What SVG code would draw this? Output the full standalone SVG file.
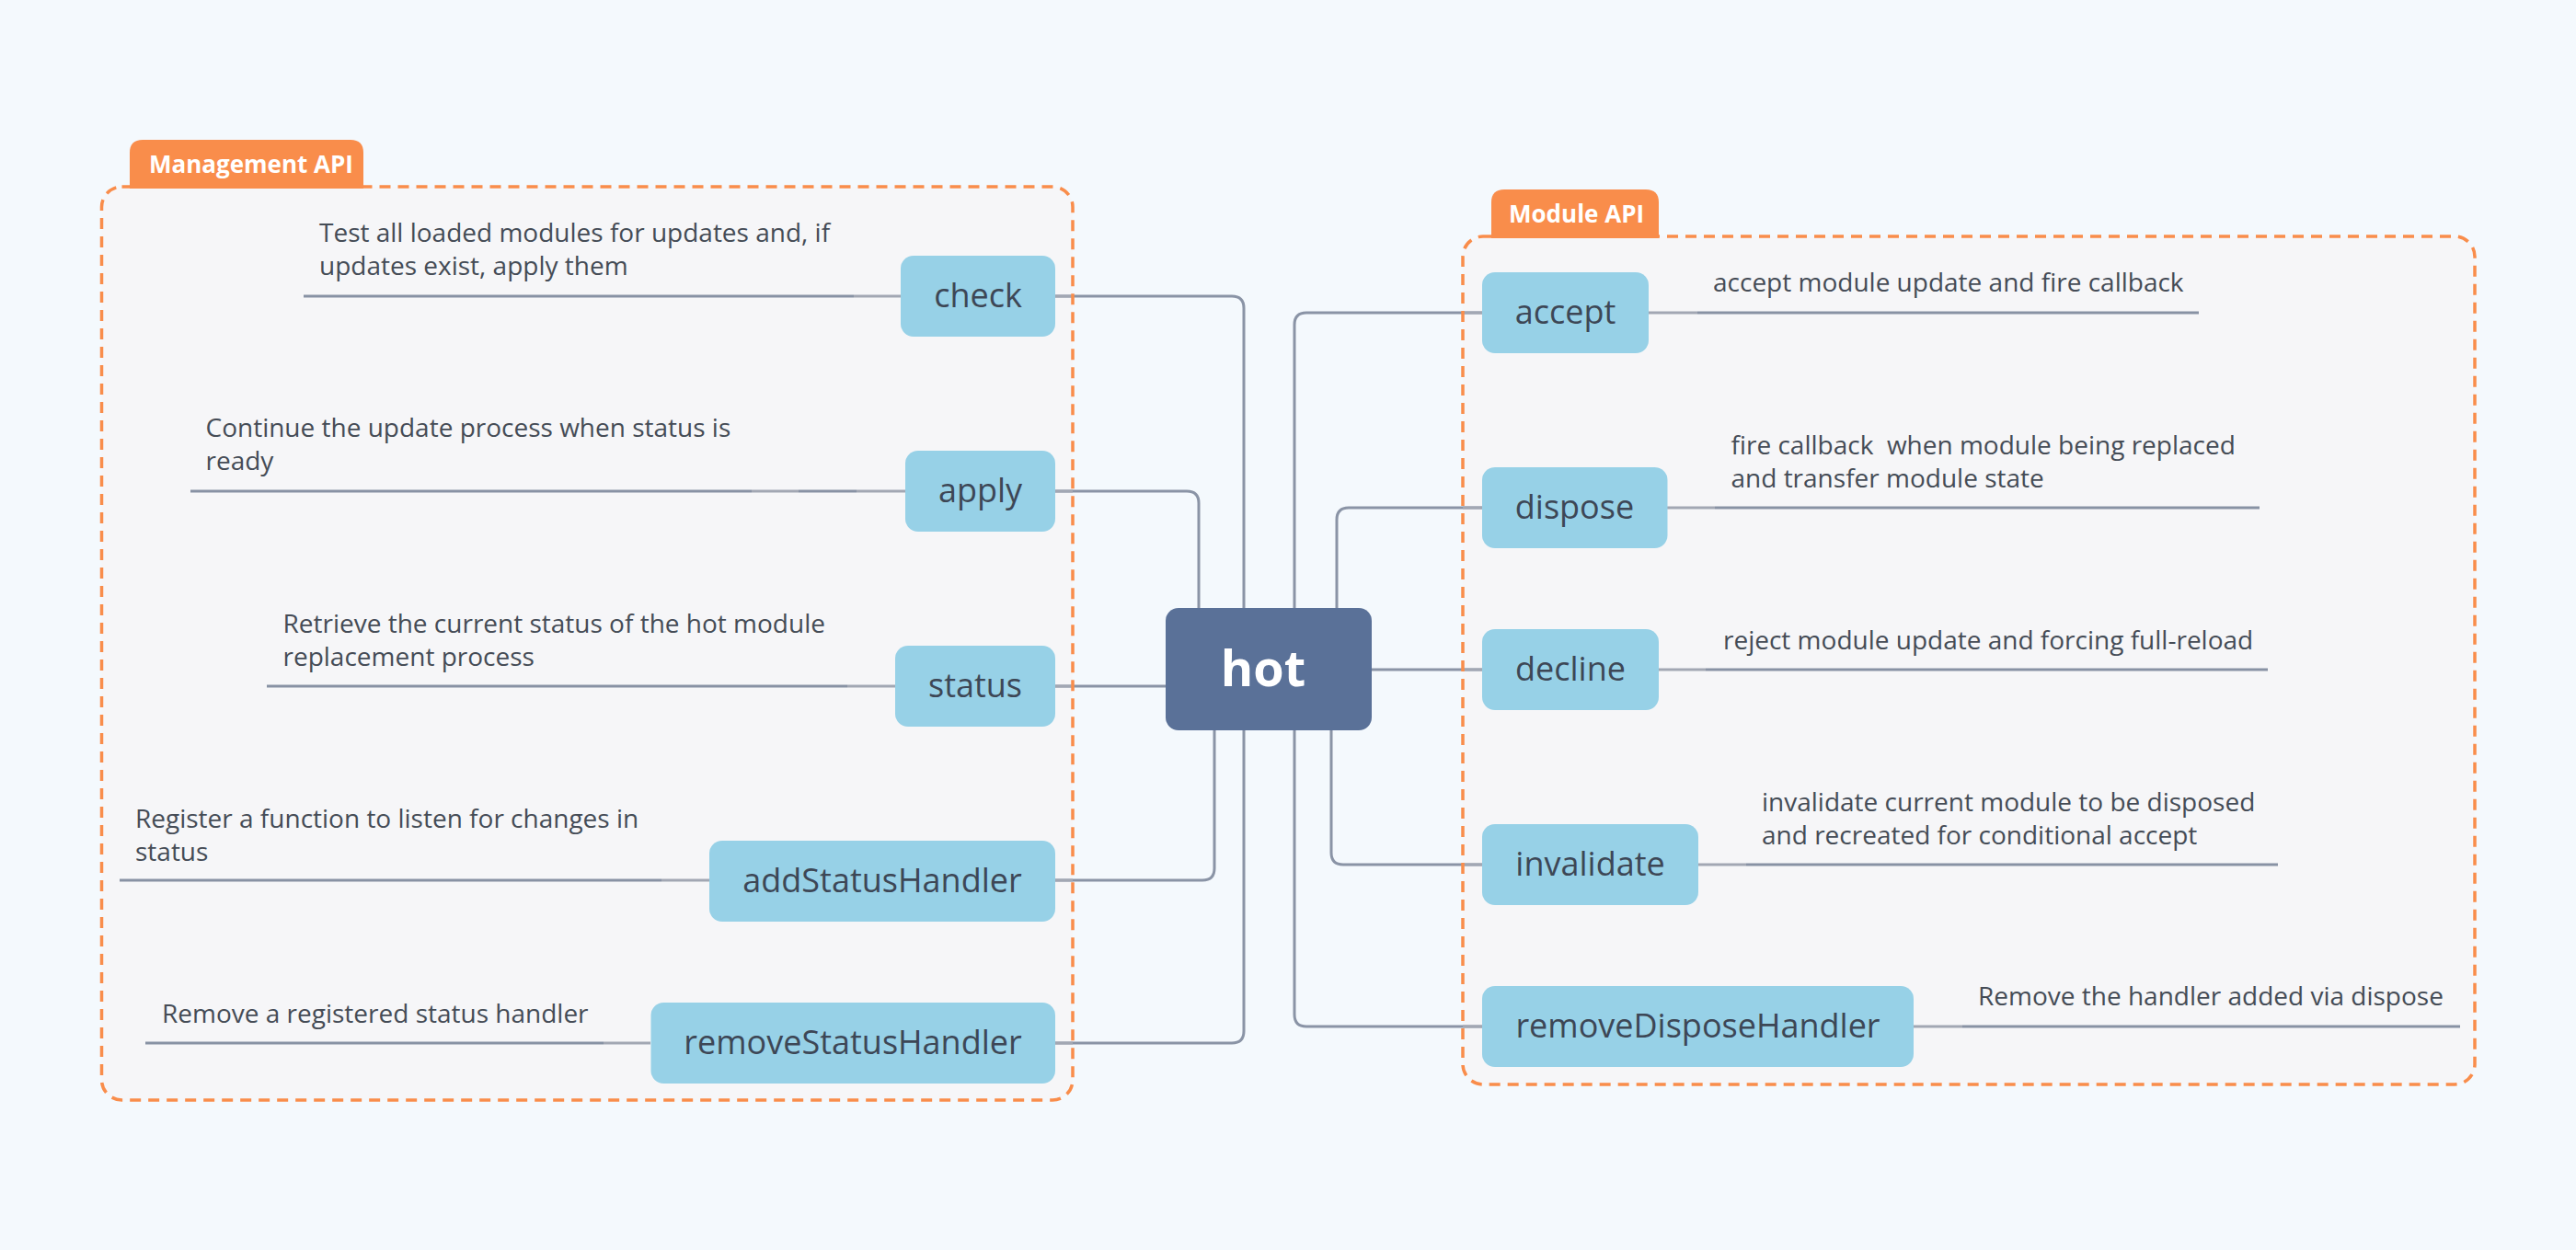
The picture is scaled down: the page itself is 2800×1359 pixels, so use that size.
<svg xmlns="http://www.w3.org/2000/svg" width="2800" height="1359" viewBox="0 0 2800 1359">
<style>
.bg{fill:#F4F9FD}
.gfill{fill:#F6F6F8}
.gborder{fill:none;stroke:#F98D4B;stroke-width:3.5;stroke-dasharray:12 8}
.tab{fill:#F98D4B}
.tabtxt{font-family:"Open Sans","Noto Sans",sans-serif;font-weight:700;font-size:26px;fill:#FFFFFF}
.conn{fill:none;stroke:#8A94A6;stroke-width:3}
.lite{fill:none;stroke:#A2A7B3;stroke-width:3}
.dark{fill:none;stroke:#8892A4;stroke-width:3}
.node{fill:#97D1E7}
.hot{fill:#5A7198}
.lbl{font-family:"Open Sans","Noto Sans",sans-serif;font-size:36px;fill:#3D4756;text-anchor:middle}
.hottxt{font-family:"Open Sans","Noto Sans",sans-serif;font-weight:700;font-size:54px;fill:#FFFFFF;text-anchor:middle}
.desc{font-family:"Open Sans","Noto Sans",sans-serif;font-size:28px;fill:#454C56}
</style>
<rect class="bg" x="0" y="0" width="2800" height="1359"/>

<g id="group-management-fill"><rect class="gfill" x="110.5" y="203" width="1055.5" height="993" rx="22"/></g>
<g id="group-module-fill"><rect class="gfill" x="1590" y="257" width="1100" height="922" rx="22"/></g>

<g id="connectors">
<path class="conn" d="M1147,322 H1339 Q1352,322 1352,335 V661"/>
<path class="conn" d="M1147,534 H1290 Q1303,534 1303,547 V661"/>
<path class="conn" d="M1611,340 H1420 Q1407,340 1407,353 V661"/>
<path class="conn" d="M1611,552 H1466 Q1453,552 1453,565 V661"/>
<path class="conn" d="M1491,728 H1611"/>
<path class="conn" d="M1267,746 H1147"/>
<path class="conn" d="M1320,794 V944 Q1320,957 1307,957 H1147"/>
<path class="conn" d="M1352,794 V1121 Q1352,1134 1339,1134 H1147"/>
<path class="conn" d="M1407,794 V1103 Q1407,1116 1420,1116 H1611"/>
<path class="conn" d="M1447,794 V927 Q1447,940 1460,940 H1611"/>
<path class="lite" d="M1147,322 H1166 M1147,534 H1166 M1147,746 H1166 M1147,957 H1166 M1147,1134 H1166"/>
<path class="lite" d="M1590,340 H1611 M1590,552 H1611 M1590,728 H1611 M1590,940 H1611 M1590,1116 H1611"/>
<path class="lite" d="M928,322 H979 M817,534 H868 M931,534 H984 M921,746 H973 M719,957 H771 M656,1134 H707"/>
<path class="dark" d="M330,322 H928 M207,534 H817 M868,534 H931 M290,746 H921 M130,957 H719 M158,1134 H656"/>
<path class="lite" d="M1792,340 H1845 M1812,552 H1864 M1803,728 H1854 M1846,940 H1898 M2080,1116 H2133"/>
<path class="dark" d="M1845,340 H2390 M1864,552 H2456 M1854,728 H2465 M1898,940 H2476 M2133,1116 H2674"/>
</g>

<g id="group-management">
<rect class="gborder" x="110.5" y="203" width="1055.5" height="993" rx="22"/>
<path class="tab" d="M141,205 V166 Q141,152 155,152 H381 Q395,152 395,166 V205 Z"/>
<text class="tabtxt" x="162" y="188">Management API</text>
</g>
<g id="group-module">
<rect class="gborder" x="1590" y="257" width="1100" height="922" rx="22"/>
<path class="tab" d="M1621,259 V220 Q1621,206 1635,206 H1789 Q1803,206 1803,220 V259 Z"/>
<text class="tabtxt" x="1640" y="242">Module API</text>
</g>

<g id="node-hot">
<rect class="hot" x="1267" y="661" width="224" height="133" rx="14"/>
<text class="hottxt" x="1373" y="746">hot</text>
</g>

<g id="node-check">
<rect class="node" x="979" y="278" width="168" height="88" rx="14"/>
<text class="lbl" x="1063" y="334">check</text>
</g>
<g id="node-apply">
<rect class="node" x="984" y="490" width="163" height="88" rx="14"/>
<text class="lbl" x="1065.5" y="546">apply</text>
</g>
<g id="node-status">
<rect class="node" x="973" y="702" width="174" height="88" rx="14"/>
<text class="lbl" x="1060" y="758">status</text>
</g>
<g id="node-addStatusHandler">
<rect class="node" x="771" y="914" width="376" height="88" rx="14"/>
<text class="lbl" x="959" y="970">addStatusHandler</text>
</g>
<g id="node-removeStatusHandler">
<rect class="node" x="707.5" y="1090" width="439.5" height="88" rx="14"/>
<text class="lbl" x="927" y="1146">removeStatusHandler</text>
</g>

<g id="node-accept">
<rect class="node" x="1611" y="296" width="181" height="88" rx="14"/>
<text class="lbl" x="1701.5" y="352">accept</text>
</g>
<g id="node-dispose">
<rect class="node" x="1611" y="508" width="201.5" height="88" rx="14"/>
<text class="lbl" x="1711.5" y="564">dispose</text>
</g>
<g id="node-decline">
<rect class="node" x="1611" y="684" width="192" height="88" rx="14"/>
<text class="lbl" x="1707" y="740">decline</text>
</g>
<g id="node-invalidate">
<rect class="node" x="1611" y="896" width="235" height="88" rx="14"/>
<text class="lbl" x="1728.5" y="952">invalidate</text>
</g>
<g id="node-removeDisposeHandler">
<rect class="node" x="1611" y="1072" width="469" height="88" rx="14"/>
<text class="lbl" x="1845.5" y="1128">removeDisposeHandler</text>
</g>

<g id="desc-check"><text class="desc" x="347" y="263">Test all loaded modules for updates and, if</text><text class="desc" x="347" y="299">updates exist, apply them</text></g>
<g id="desc-apply"><text class="desc" x="223.5" y="475">Continue the update process when status is</text><text class="desc" x="223.5" y="511">ready</text></g>
<g id="desc-status"><text class="desc" x="307.5" y="688">Retrieve the current status of the hot module</text><text class="desc" x="307.5" y="724">replacement process</text></g>
<g id="desc-addStatusHandler"><text class="desc" x="147" y="900">Register a function to listen for changes in</text><text class="desc" x="147" y="936">status</text></g>
<g id="desc-removeStatusHandler"><text class="desc" x="176" y="1112">Remove a registered status handler</text></g>

<g id="desc-accept"><text class="desc" x="1862" y="317">accept module update and fire callback</text></g>
<g id="desc-dispose"><text class="desc" x="1881.5" y="494" xml:space="preserve">fire callback  when module being replaced</text><text class="desc" x="1881.5" y="530">and transfer module state</text></g>
<g id="desc-decline"><text class="desc" x="1873" y="706">reject module update and forcing full-reload</text></g>
<g id="desc-invalidate"><text class="desc" x="1915" y="882">invalidate current module to be disposed</text><text class="desc" x="1915" y="918">and recreated for conditional accept</text></g>
<g id="desc-removeDisposeHandler"><text class="desc" x="2150" y="1093">Remove the handler added via dispose</text></g>
</svg>
